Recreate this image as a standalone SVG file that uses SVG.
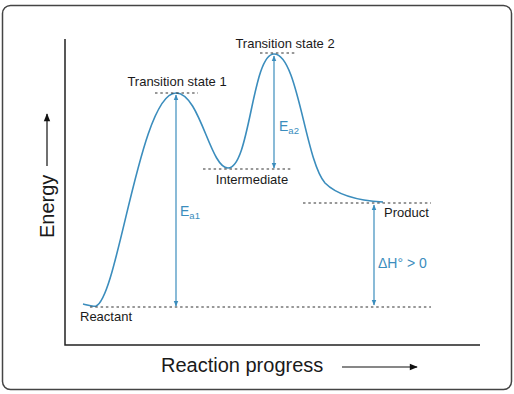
<svg xmlns="http://www.w3.org/2000/svg" width="514" height="394" viewBox="0 0 514 394">
<defs>
<style>
.lbl{font-family:"Liberation Sans",Arial,sans-serif;font-size:13px;fill:#1a1a1a}
.blue{font-family:"Liberation Sans",Arial,sans-serif;font-size:14px;fill:#3b8dbd}
.ax{font-family:"Liberation Sans",Arial,sans-serif;font-size:20px;fill:#1a1a1a}
.dot{stroke:#333;stroke-width:1.2;stroke-dasharray:2.5,2.8;fill:none}
.barr{stroke:#3b8dbd;stroke-width:1.2;fill:none;marker-start:url(#bh);marker-end:url(#bh)}
</style>
<marker id="bh" viewBox="0 0 10 10" refX="9" refY="5" markerWidth="6" markerHeight="6" orient="auto-start-reverse" markerUnits="userSpaceOnUse">
<path d="M0,1 L10,5 L0,9 z" fill="#3b8dbd"/>
</marker>
<marker id="kh" viewBox="0 0 10 10" refX="9" refY="5" markerWidth="12" markerHeight="8" orient="auto" markerUnits="userSpaceOnUse">
<path d="M0,1 L10,5 L0,9 z" fill="#111"/>
</marker>
</defs>
<rect x="2.5" y="5.5" width="509" height="384" rx="8" fill="#fff" stroke="#444" stroke-width="1.5"/>
<g id="axes" stroke="#222" stroke-width="1.5" fill="none">
<path d="M65,39 V345 H480"/>
</g>
<g id="axis-labels">
<text class="ax" transform="translate(54,238) rotate(-90)">Energy</text>
<line x1="47" y1="166" x2="47" y2="114" stroke="#111" stroke-width="1.2" marker-end="url(#kh)"/>
<text class="ax" x="161" y="372">Reaction progress</text>
<line x1="342" y1="367" x2="417" y2="367" stroke="#111" stroke-width="1.2" marker-end="url(#kh)"/>
</g>
<g id="curve">
<path d="M83,304 C88,305 91,307 96,306 C118,298 140,93 176,93 C200,93 210,168 228,168 C250,168 252,54 274,54 C298,54 305,160 325,183 C340,198 365,201 383,202" fill="none" stroke="#3b8dbd" stroke-width="1.6"/>
</g>
<g id="levels">
<line class="dot" x1="90" y1="307" x2="431" y2="307"/>
<line class="dot" x1="155" y1="93" x2="198" y2="93"/>
<line class="dot" x1="260" y1="53" x2="296" y2="53"/>
<line class="dot" x1="203" y1="169" x2="292" y2="169"/>
<line class="dot" x1="303" y1="203" x2="431" y2="203"/>
</g>
<g id="connectors">
<line class="barr" x1="176" y1="95" x2="176" y2="306"/>
<line class="barr" x1="274" y1="56" x2="274" y2="168"/>
<line class="barr" x1="374" y1="205" x2="374" y2="305"/>
</g>
<g id="node-ts1"><text class="lbl" x="177" y="86" text-anchor="middle">Transition state 1</text></g>
<g id="node-ts2"><text class="lbl" x="285" y="48" text-anchor="middle">Transition state 2</text></g>
<g id="node-intermediate"><text class="lbl" x="252" y="184" text-anchor="middle">Intermediate</text></g>
<g id="node-product"><text class="lbl" x="384" y="217">Product</text></g>
<g id="node-reactant"><text class="lbl" x="80" y="321">Reactant</text></g>
<g id="label-ea1"><text class="blue" x="180" y="216">E<tspan font-size="9.5" dy="3">a1</tspan></text></g>
<g id="label-ea2"><text class="blue" x="279" y="131">E<tspan font-size="9.5" dy="3">a2</tspan></text></g>
<g id="label-dh"><text class="blue" x="378" y="268">ΔH° &gt; 0</text></g>
</svg>
